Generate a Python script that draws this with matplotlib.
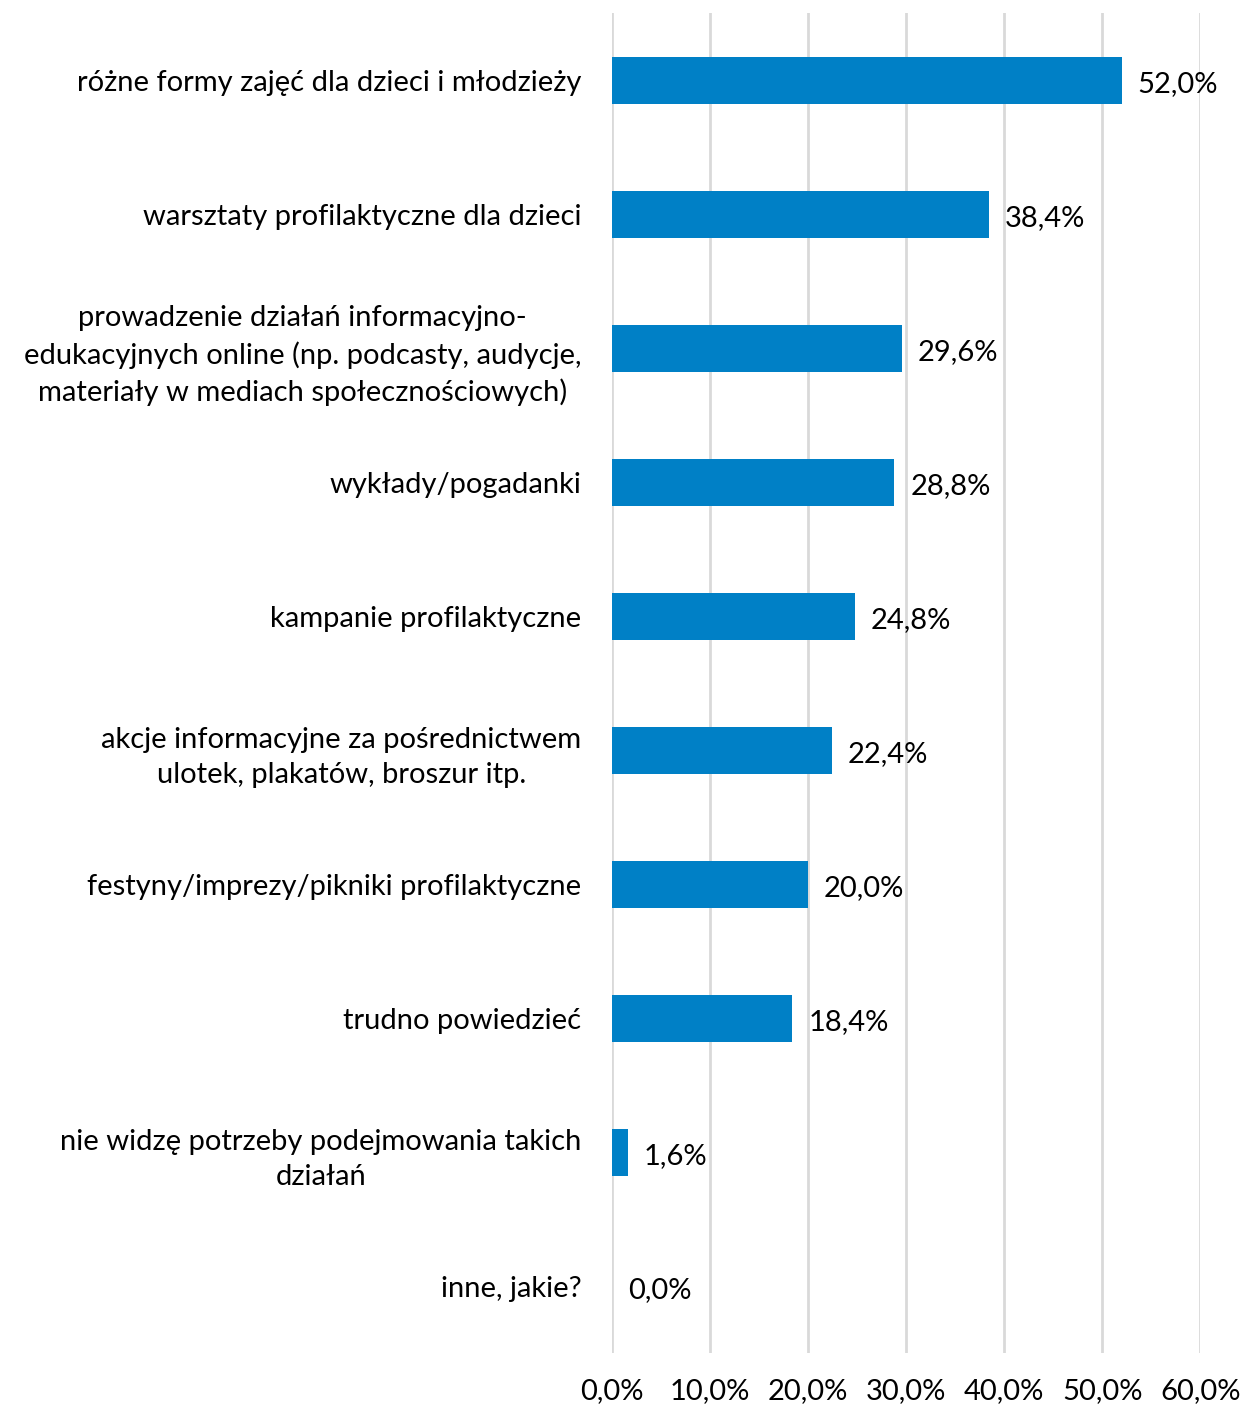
import matplotlib
matplotlib.use('Agg')
import matplotlib.pyplot as plt
import numpy as np

plt.rcParams['font.family'] = ['Lato', 'DejaVu Sans']

categories = [
    'różne formy zajęć dla dzieci i młodzieży',
    'warsztaty profilaktyczne dla dzieci',
    'prowadzenie działań informacyjno-\nedukacyjnych online (np. podcasty, audycje,\nmateriały w mediach społecznościowych)',
    'wykłady/pogadanki',
    'kampanie profilaktyczne',
    'akcje informacyjne za pośrednictwem\nulotek, plakatów, broszur itp.',
    'festyny/imprezy/pikniki profilaktyczne',
    'trudno powiedzieć',
    'nie widzę potrzeby podejmowania takich\ndziałań',
    'inne, jakie?',
]
values = [52.0, 38.4, 29.6, 28.8, 24.8, 22.4, 20.0, 18.4, 1.6, 0.0]
xticks = [0, 10, 20, 30, 40, 50, 60]

fig = plt.figure(figsize=(12.44, 14.09), dpi=100)
ax = fig.add_axes([0.492, 0.0397, 0.473, 0.951])

y = np.arange(len(categories))
ax.barh(y, values, height=0.35, color='#0080C6', zorder=3)
for yi, v in zip(y, values):
    ax.text(v + 1.6, yi + 0.03, f'{v:.1f}%'.replace('.', ','), va='center', ha='left',
            fontsize=21, color='black')

ax.set_xlim(0, 60)
ax.set_ylim(len(categories) - 0.5, -0.5)
ax.set_xticks(xticks)
ax.set_xticklabels([f'{t:.1f}%'.replace('.', ',') for t in xticks], fontsize=21)
ax.set_yticks(y)
ax.set_yticklabels(categories, fontsize=21, multialignment='center', linespacing=1.45)
ax.tick_params(axis='y', length=0, pad=22)
ax.tick_params(axis='x', length=0, pad=18)
ax.grid(axis='x', color='#D9D9D9', linewidth=2, zorder=0)
for s in ax.spines.values():
    s.set_visible(False)

fig.savefig('out.png', dpi=100)
